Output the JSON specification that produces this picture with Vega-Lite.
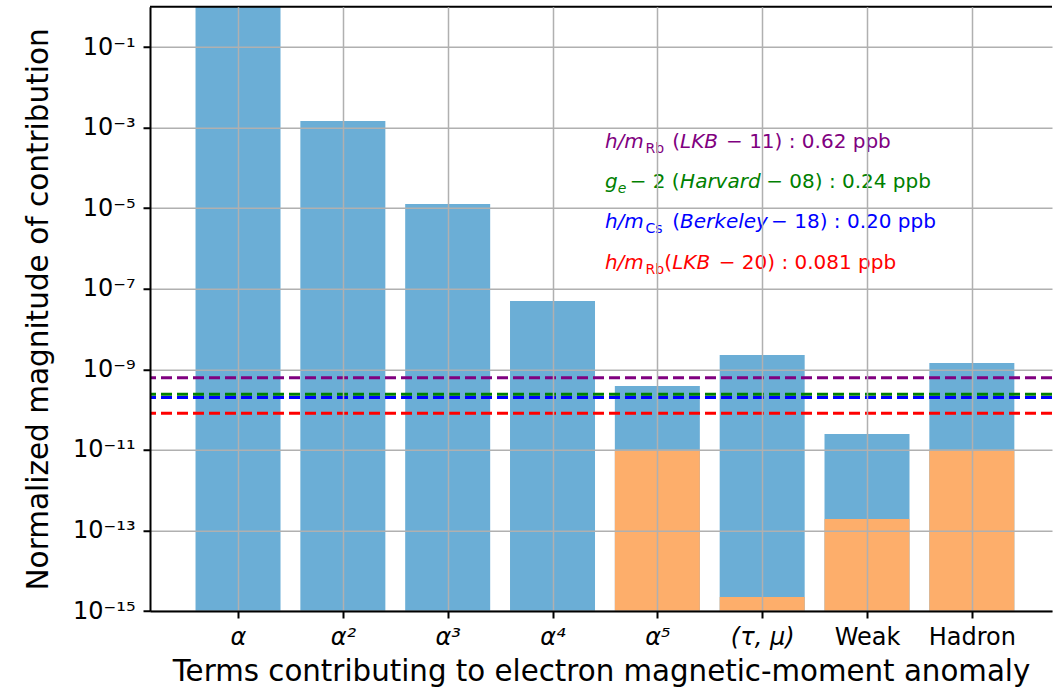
{
  "$schema": "https://vega.github.io/schema/vega-lite/v6.json",
  "width": 902,
  "height": 604.25,
  "autosize": {"type": "none"},
  "padding": {"left": 150, "top": 6.75, "right": 1, "bottom": 83},
  "background": "white",
  "config": {
    "view": {"stroke": null},
    "font": "DejaVu Sans",
    "text": {"font": "DejaVu Sans"}
  },
  "datasets": {
    "terms": [
      {"term": "α", "i": 0, "value": 1, "unc": null},
      {"term": "α²", "i": 1, "value": 1.46e-3, "unc": null},
      {"term": "α³", "i": 2, "value": 1.27e-5, "unc": null},
      {"term": "α⁴", "i": 3, "value": 4.97e-8, "unc": null},
      {"term": "α⁵", "i": 4, "value": 3.85e-10, "unc": 1.0e-11},
      {"term": "(τ, μ)", "i": 5, "value": 2.26e-9, "unc": 2.22e-15},
      {"term": "Weak", "i": 6, "value": 2.48e-11, "unc": 1.92e-13},
      {"term": "Hadron", "i": 7, "value": 1.43e-9, "unc": 1.0e-11}
    ],
    "refs": [
      {"ref": "LKB-11", "value": 6.2e-10},
      {"ref": "Harvard-08", "value": 2.4e-10},
      {"ref": "Berkeley-18", "value": 2.0e-10},
      {"ref": "LKB-20", "value": 8.1e-11}
    ],
    "annItalic": [
      {"ref": "LKB-11", "x": 3.5, "y": 3.162e-4, "text": "h/m"},
      {"ref": "LKB-11", "x": 4.217, "y": 3.162e-4, "text": "LKB"},
      {"ref": "Harvard-08", "x": 3.5, "y": 3.162e-5, "text": "g"},
      {"ref": "Harvard-08", "x": 4.217, "y": 3.162e-5, "text": "Harvard"},
      {"ref": "Berkeley-18", "x": 3.5, "y": 3.162e-6, "text": "h/m"},
      {"ref": "Berkeley-18", "x": 4.217, "y": 3.162e-6, "text": "Berkeley"},
      {"ref": "LKB-20", "x": 3.5, "y": 3.162e-7, "text": "h/m"},
      {"ref": "LKB-20", "x": 4.142, "y": 3.162e-7, "text": "LKB"}
    ],
    "annUpright": [
      {"ref": "LKB-11", "x": 4.142, "y": 3.162e-4, "text": "("},
      {"ref": "LKB-11", "x": 4.655, "y": 3.162e-4, "text": "− 11) : 0.62 ppb"},
      {"ref": "Harvard-08", "x": 3.736, "y": 3.162e-5, "text": "− 2 ("},
      {"ref": "Harvard-08", "x": 5.038, "y": 3.162e-5, "text": "− 08) : 0.24 ppb"},
      {"ref": "Berkeley-18", "x": 4.142, "y": 3.162e-6, "text": "("},
      {"ref": "Berkeley-18", "x": 5.085, "y": 3.162e-6, "text": "− 18) : 0.20 ppb"},
      {"ref": "LKB-20", "x": 4.066, "y": 3.162e-7, "text": "("},
      {"ref": "LKB-20", "x": 4.585, "y": 3.162e-7, "text": "− 20) : 0.081 ppb"}
    ],
    "annSub": [
      {"ref": "LKB-11", "x": 3.887, "y": 3.162e-4, "text": "Rb"},
      {"ref": "Berkeley-18", "x": 3.887, "y": 3.162e-6, "text": "Cs"},
      {"ref": "LKB-20", "x": 3.887, "y": 3.162e-7, "text": "Rb"}
    ],
    "annSubItalic": [
      {"ref": "Harvard-08", "x": 3.623, "y": 3.162e-5, "text": "e"}
    ]
  },
  "layer": [
    {
      "data": {"name": "terms"},
      "mark": {"type": "bar", "width": 85, "color": "#6baed6"},
      "encoding": {
        "x": {
          "field": "i",
          "type": "quantitative",
          "scale": {"domain": [-0.792, 7.717], "nice": false, "zero": false},
          "axis": {
            "values": [0, 1, 2, 3, 4, 5, 6, 7],
            "labelExpr": "['α','α²','α³','α⁴','α⁵','(τ, μ)','Weak','Hadron'][datum.value]",
            "labelFontStyle": {"condition": {"test": "datum.value <= 5", "value": "italic"}, "value": "normal"},
            "labelFontSize": 24,
            "labelColor": "black",
            "labelPadding": 7,
            "tickSize": 7,
            "tickWidth": 2,
            "tickColor": "black",
            "domainColor": "black",
            "domainWidth": 2,
            "grid": true,
            "gridColor": "#b0b0b0",
            "gridWidth": 1.5,
            "title": "Terms contributing to electron magnetic-moment anomaly",
            "titleFontSize": 29.3,
            "titleFontWeight": "normal",
            "titleColor": "black",
            "titlePadding": 8,
            "zindex": 1
          }
        },
        "y": {
          "field": "value",
          "type": "quantitative",
          "scale": {"type": "log", "domain": [1e-15, 1], "nice": false},
          "axis": {
            "values": [1e-1, 1e-3, 1e-5, 1e-7, 1e-9, 1e-11, 1e-13, 1e-15],
            "labelExpr": "'10' + replace(replace(replace(replace(replace(replace('' + round(log(datum.value) / LN10), '-', '⁻'), regexp('1', 'g'), '¹'), '3', '³'), '5', '⁵'), '7', '⁷'), '9', '⁹')",
            "labelFontSize": 24,
            "labelColor": "black",
            "labelPadding": 8,
            "tickSize": 7,
            "tickWidth": 2,
            "tickColor": "black",
            "domainColor": "black",
            "domainWidth": 2,
            "grid": true,
            "gridColor": "#b0b0b0",
            "gridWidth": 1.5,
            "title": "Normalized magnitude of contribution",
            "titleFontSize": 29.5,
            "titleFontWeight": "normal",
            "titleColor": "black",
            "titlePadding": 19,
            "zindex": 1
          }
        },
        "y2": {"datum": 1e-15}
      }
    },
    {
      "data": {"name": "terms"},
      "transform": [{"filter": "isValid(datum.unc)"}],
      "mark": {"type": "bar", "width": 85, "color": "#fdae6b"},
      "encoding": {
        "x": {"field": "i", "type": "quantitative"},
        "y": {"field": "unc", "type": "quantitative"},
        "y2": {"datum": 1e-15}
      }
    },
    {
      "data": {"name": "refs"},
      "mark": {"type": "rule", "strokeDash": [11, 5], "strokeWidth": 3},
      "encoding": {
        "y": {"field": "value", "type": "quantitative"},
        "color": {
          "field": "ref",
          "type": "nominal",
          "scale": {"domain": ["LKB-11", "Harvard-08", "Berkeley-18", "LKB-20"], "range": ["#800080", "#008000", "#0000ff", "#ff0000"]},
          "legend": null
        }
      }
    },
    {
      "data": {"values": [{"top": 1}]},
      "mark": {"type": "rule", "color": "black", "strokeWidth": 2},
      "encoding": {"y": {"field": "top", "type": "quantitative"}}
    },
    {
      "data": {"name": "annItalic"},
      "mark": {"type": "text", "align": "left", "baseline": "alphabetic", "fontSize": 20, "fontStyle": "italic"},
      "encoding": {
        "x": {"field": "x", "type": "quantitative"},
        "y": {"field": "y", "type": "quantitative"},
        "text": {"field": "text"},
        "color": {"field": "ref", "type": "nominal", "legend": null}
      }
    },
    {
      "data": {"name": "annUpright"},
      "mark": {"type": "text", "align": "left", "baseline": "alphabetic", "fontSize": 20},
      "encoding": {
        "x": {"field": "x", "type": "quantitative"},
        "y": {"field": "y", "type": "quantitative"},
        "text": {"field": "text"},
        "color": {"field": "ref", "type": "nominal", "legend": null}
      }
    },
    {
      "data": {"name": "annSub"},
      "mark": {"type": "text", "align": "left", "baseline": "alphabetic", "fontSize": 14, "dy": 5},
      "encoding": {
        "x": {"field": "x", "type": "quantitative"},
        "y": {"field": "y", "type": "quantitative"},
        "text": {"field": "text"},
        "color": {"field": "ref", "type": "nominal", "legend": null}
      }
    },
    {
      "data": {"name": "annSubItalic"},
      "mark": {"type": "text", "align": "left", "baseline": "alphabetic", "fontSize": 14, "dy": 5, "fontStyle": "italic"},
      "encoding": {
        "x": {"field": "x", "type": "quantitative"},
        "y": {"field": "y", "type": "quantitative"},
        "text": {"field": "text"},
        "color": {"field": "ref", "type": "nominal", "legend": null}
      }
    }
  ]
}
